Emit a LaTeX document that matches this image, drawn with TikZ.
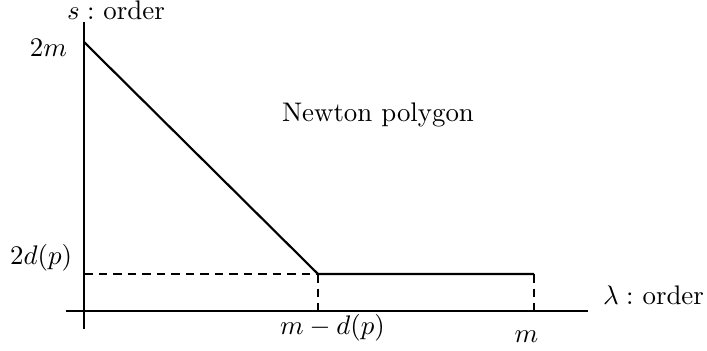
\documentclass[tikz,border=0pt]{standalone}
\begin{document}
\begin{tikzpicture}[x=0.372pt,y=-0.372pt,
  axis/.style={line width=0.8pt},
  poly/.style={line width=0.8pt},
  guide/.style={line width=0.8pt,dash pattern=on 3.2pt off 2.2pt},
  lbl/.style={inner sep=0pt,outer sep=0pt}]
\useasboundingbox (0,0) rectangle (707,351);
% axes
\coordinate (ytop) at (84,22);
\coordinate (ybot) at (84,329);
\coordinate (xl) at (66,311);
\coordinate (xr) at (588,311);
\draw[axis] (ybot) -- (ytop);
\draw[axis] (xl) -- (xr);
% polygon points
\coordinate (A) at (84,42);
\coordinate (B) at (318,274);
\coordinate (C) at (534,274);
\coordinate (Ay) at (84,274);
\coordinate (Bx) at (318,311);
\coordinate (Cx) at (534,311);
\draw[poly] (A) -- (B) -- (C);
\draw[guide] (Ay) -- (B);
\draw[guide] (B) -- (Bx);
\draw[guide] (C) -- (Cx);
% labels
\node[lbl,anchor=base west] (slab) at (67,20) {$s:$ order};
\node[lbl,anchor=base east] (twom) at (67,57) {$2m$};
\node[lbl,anchor=base east] (twod) at (72,265) {$2d(p)$};
\node[lbl,anchor=base west] (mmd) at (280,335) {$m-d(p)$};
\node[lbl,anchor=base] (mlab) at (526.5,343) {$m$};
\node[lbl,anchor=base west] (np) at (282,122) {Newton polygon};
\node[lbl,anchor=base west] (llab) at (603,305) {$\lambda:$ order};
\end{tikzpicture}
\end{document}
